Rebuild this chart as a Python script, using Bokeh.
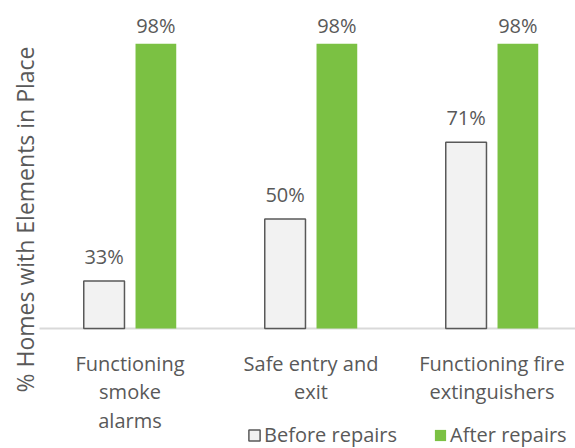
import math
from bokeh.plotting import figure
from bokeh.models import ColumnDataSource, Range1d, LabelSet, Label, Legend, LegendItem
from bokeh.core.properties import value
from bokeh.embed import file_html
from bokeh.resources import INLINE

categories = ["Functioning\nsmoke\nalarms", "Safe entry and\nexit", "Functioning fire\nextinguishers"]
before = [33, 50, 71]
after = [98, 98, 98]
series_names = ["Before repairs", "After repairs"]
y_min, y_max = 20, 100

FONT = "Open Sans"
TXT = "#595959"
GREEN = "#7BC143"

W, H = 575, 448
# plot-area geometry (pixels) used to build the ranges
left_px, base_px, top_px = 39, 328, 36
cat_px = 181.0
unit_px = (base_px - top_px) / (y_max - y_min)

x_start = -(left_px / cat_px)
x_end = x_start + W / cat_px
y_top = y_min + base_px / unit_px
y_bot = y_min - (H - base_px) / unit_px

pos = [i + 0.5 for i in range(len(categories))]
off = 0.143
bw = 0.225

src_b = ColumnDataSource(dict(x=[p_ - off for p_ in pos], top=before,
                              lab=[f"{v}%" for v in before]))
src_a = ColumnDataSource(dict(x=[p_ + off for p_ in pos], top=after,
                              lab=[f"{v}%" for v in after]))

p = figure(width=W, height=H, output_backend="svg", toolbar_location=None,
           x_range=Range1d(x_start, x_end), y_range=Range1d(y_bot, y_top),
           min_border=0)
p.xaxis.visible = False
p.yaxis.visible = False
p.grid.visible = False
p.outline_line_color = None
p.background_fill_color = "white"
p.border_fill_color = "white"

# category axis baseline
p.segment(x0=[0], x1=[x_end], y0=[y_min], y1=[y_min], line_color="#D9D9D9", line_width=2)

rb = p.vbar(x="x", top="top", bottom=y_min, width=bw, source=src_b,
            fill_color="#F2F2F2", line_color=TXT, line_width=1.5)
ra = p.vbar(x="x", top="top", bottom=y_min, width=bw, source=src_a,
            fill_color=GREEN, line_color=None)

p.add_layout(LabelSet(x="x", y="top", text="lab", source=src_b, y_offset=11,
                      text_align="center", text_baseline="bottom",
                      text_font=value(FONT), text_font_size="20px", text_color=TXT))
p.add_layout(LabelSet(x="x", y="top", text="lab", source=src_a, y_offset=5,
                      text_align="center", text_baseline="bottom",
                      text_font=value(FONT), text_font_size="20px", text_color=TXT))

# category labels, one centred line at a time
line_gap = 28.5
max_lines = max(len(c.split("\n")) for c in categories)
for li in range(max_lines):
    xs, labs = [], []
    for c, x in zip(categories, pos):
        parts = c.split("\n")
        if li < len(parts):
            xs.append(x)
            labs.append(parts[li])
    src_l = ColumnDataSource(dict(x=xs, y=[y_min] * len(xs), lab=labs))
    p.add_layout(LabelSet(x="x", y="y", text="lab", source=src_l,
                          y_offset=-42 - line_gap * li,
                          text_align="center", text_baseline="alphabetic",
                          text_font=value(FONT), text_font_size="20px", text_color=TXT))

p.add_layout(Label(x=24, y=H - 219, x_units="screen", y_units="screen",
                   text="% Homes with Elements in Place", angle=math.pi / 2,
                   text_align="center", text_baseline="middle",
                   text_font=FONT, text_font_size="23px", text_color=TXT))

legend = Legend(items=[LegendItem(label=series_names[0], renderers=[rb]),
                       LegendItem(label=series_names[1], renderers=[ra])],
                location=(247, 0), orientation="horizontal",
                glyph_width=14, glyph_height=14, label_standoff=3, spacing=36,
                padding=0, margin=0, border_line_color=None, background_fill_alpha=0,
                label_text_font=FONT, label_text_font_size="20px", label_text_color=TXT)
p.add_layout(legend)

open("out.html", "w").write(file_html(p, INLINE))
